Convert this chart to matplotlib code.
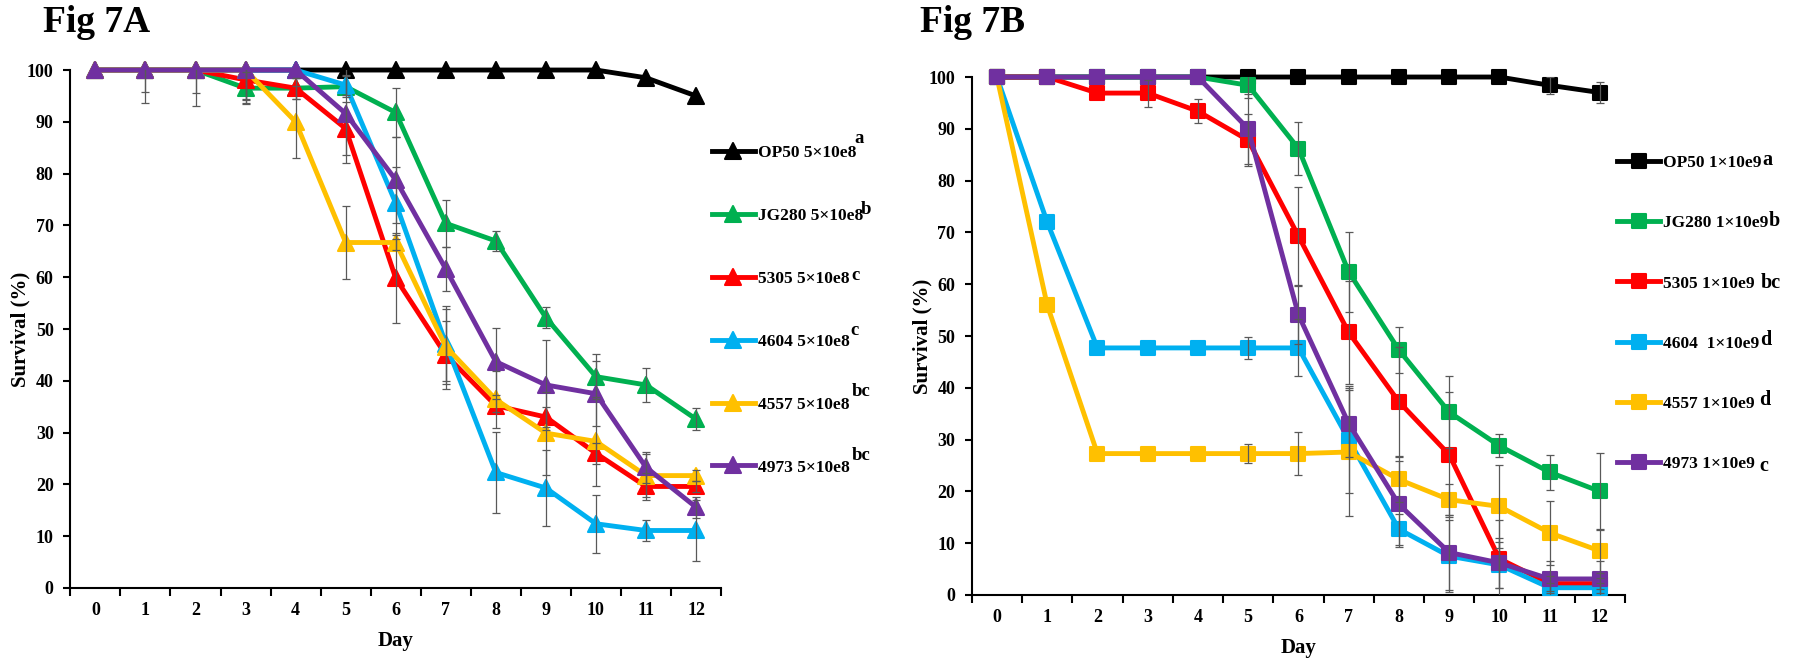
import numpy as np
import matplotlib
matplotlib.use('Agg')
import matplotlib.pyplot as plt
from matplotlib.markers import MarkerStyle

plt.rcParams['font.family'] = ['Liberation Serif', 'DejaVu Serif']
plt.rcParams['font.weight'] = 'bold'

# ---- data ----
days = list(range(13))
colors = ['#000000', '#00B050', '#FF0000', '#00B0F0', '#FFC000', '#7030A0']

# Fig 7A: 5x10e8
labels_a = ['OP50 5×10e8', 'JG280 5×10e8', '5305 5×10e8',
            '4604 5×10e8', '4557 5×10e8', '4973 5×10e8']
letters_a = ['a', 'b', 'c', 'c', 'bc', 'bc']
op50_a = [100, 100, 100, 100, 100, 100, 100, 100, 100, 100, 100, 98.5, 95]
jg280_a = [100, 100, 100, 96.5, 96.5, 96.8, 91.8, 70.4, 67, 52.2, 40.8, 39.2, 32.6]
s5305_a = [100, 100, 100, 98.1, 96.5, 88.7, 59.8, 45, 35.2, 33, 26, 19.6, 19.6]
s4604_a = [100, 100, 100, 100, 100, 97.1, 74.3, 47.2, 22.3, 19.3, 12.4, 11.1, 11.1]
s4557_a = [100, 100, 100, 100, 90, 66.7, 66.7, 46.6, 36.4, 29.9, 28.3, 21.7, 21.7]
s4973_a = [100, 100, 100, 100, 100, 91.6, 78.8, 61.6, 43.7, 39.2, 37.5, 23.3, 15.6]

op50_a_err = [0, 0, 0, 0, 0, 0, 0, 0, 0, 0, 0, 0, 0]
jg280_a_err = [0, 4.3, 4.4, 3.1, 2, 2, 4.7, 4.5, 2, 2, 4.4, 3.2, 2.1]
s5305_a_err = [0, 0, 0, 3.9, 2, 5.1, 8.7, 6.5, 1.2, 2, 2, 2.6, 1]
s4604_a_err = [0, 0, 0, 0, 0, 2, 7, 7.3, 7.9, 7.4, 5.6, 2.1, 5.9]
s4557_a_err = [0, 0, 0, 5.5, 6.9, 7, 1.5, 7.2, 5.5, 8, 8.6, 4.2, 1]
s4973_a_err = [0, 6.4, 6.9, 6.3, 0, 9.6, 8.3, 4.2, 6.4, 8.7, 6.3, 3, 2]

# Fig 7B: 1x10e9
labels_b = ['OP50 1×10e9', 'JG280 1×10e9', '5305 1×10e9',
            '4604  1×10e9', '4557 1×10e9', '4973 1×10e9']
letters_b = ['a', 'b', 'bc', 'd', 'd', 'c']
op50_b = [100, 100, 100, 100, 100, 100, 100, 100, 100, 100, 100, 98.4, 97]
jg280_b = [100, 100, 100, 100, 100, 98.4, 86.2, 62.4, 47.3, 35.3, 28.8, 23.7, 20]
s5305_b = [100, 100, 96.9, 96.9, 93.4, 87.8, 69.3, 50.7, 37.3, 27.1, 7, 2.2, 2.2]
s4604_b = [100, 72, 47.7, 47.7, 47.7, 47.7, 47.7, 30, 12.7, 7.5, 5.8, 1.4, 1.4]
s4557_b = [100, 56, 27.3, 27.3, 27.3, 27.3, 27.3, 27.6, 22.3, 18.4, 17.1, 12, 8.5]
s4973_b = [100, 100, 100, 100, 100, 90, 54.1, 33.1, 17.5, 8.2, 6.2, 3.1, 3.1]

op50_b_err = [0, 0, 0, 0, 0, 0, 0, 0, 0, 0, 0, 1.6, 2.1]
jg280_b_err = [0, 0, 0, 0, 0, 2.5, 5.2, 7.7, 4.5, 6.9, 2.2, 3.4, 7.4]
s5305_b_err = [0, 0, 0, 2.6, 2.3, 5, 9.5, 10, 10.5, 12, 7.5, 1.5, 1]
s4604_b_err = [0, 0, 0, 0, 0, 2.2, 5.5, 10.4, 3, 6.9, 4.4, 1, 1]
s4557_b_err = [0, 0, 0, 0, 0, 1.9, 4.1, 12.4, 4.4, 3, 8, 6.2, 4.3]
s4973_b_err = [0, 0, 0, 0, 0, 6.7, 5.6, 6.5, 8.3, 7.3, 4.8, 3.4, 3.5]

series_a = [op50_a, jg280_a, s5305_a, s4604_a, s4557_a, s4973_a]
errors_a = [op50_a_err, jg280_a_err, s5305_a_err, s4604_a_err, s4557_a_err, s4973_a_err]
series_b = [op50_b, jg280_b, s5305_b, s4604_b, s4557_b, s4973_b]
errors_b = [op50_b_err, jg280_b_err, s5305_b_err, s4604_b_err, s4557_b_err, s4973_b_err]

# letter offsets (points) from the bottom-right corner of each legend text
offsets_a = [(-1.5, 13), (-1.5, 7), (1.5, 5), (0.7, 11), (1.5, 12), (1.5, 11.5)]
offsets_b = [(0.5, 4.7), (0.5, 4.2), (4, 2.7), (0.5, 4.7), (3, 4.7), (3, 0.7)]


def draw_panel(ax, series, errors, labels, letters, offsets, marker, msize,
               leg_anchor, leg_spacing, letter_size):
    x = np.array(days)
    for vals, col, lab in zip(series, colors, labels):
        ax.plot(x, vals, color=col, lw=3.5, label=lab,
                marker=MarkerStyle(marker, joinstyle='round'), ms=msize,
                mec=col, mew=1.5, clip_on=False, zorder=3)
    for vals, err in zip(series, errors):
        vals = np.array(vals)
        err = np.array(err)
        keep = err > 0
        ax.errorbar(x[keep], vals[keep], yerr=err[keep], fmt='none',
                    ecolor='#595959', elinewidth=0.9, capsize=3.2,
                    capthick=0.9, zorder=4)

    ax.set_xlim(-0.5, 12.5)
    ax.set_ylim(0, 100)
    ax.set_yticks(range(0, 101, 10))
    ax.set_xticks(days)
    ax.set_xticks(np.arange(-0.5, 13, 1), minor=True)
    ax.tick_params(axis='x', which='major', length=0, pad=10, labelsize=13)
    ax.tick_params(axis='x', which='minor', length=6, width=1.5, direction='out')
    ax.tick_params(axis='y', length=5, width=1.5, direction='out', pad=7, labelsize=13)
    for s in ['top', 'right']:
        ax.spines[s].set_visible(False)
    for s in ['left', 'bottom']:
        ax.spines[s].set_linewidth(1.5)

    ax.set_xlabel('Day', fontsize=15, fontweight='bold', va='center')
    ax.xaxis.set_label_coords(0.5, -0.102)
    ax.set_ylabel('Survival (%)', fontsize=15, fontweight='bold', va='center')
    ax.yaxis.set_label_coords(-0.076, 0.5)

    leg = ax.legend(loc='upper left', bbox_to_anchor=leg_anchor, frameon=False,
                    borderpad=0, borderaxespad=0, handlelength=2.47,
                    handletextpad=0.17, labelspacing=leg_spacing, fontsize=12.5,
                    numpoints=1)
    for txt, letter, off in zip(leg.get_texts(), letters, offsets):
        ax.annotate(letter, xy=(1, 0), xycoords=txt, xytext=off,
                    textcoords='offset points', fontsize=letter_size,
                    fontweight='bold', ha='left', va='baseline',
                    annotation_clip=False, zorder=6)


fig = plt.figure(figsize=(18.09, 6.6), dpi=100)
ax_a = fig.add_axes([0.0389, 0.1091, 0.3597, 0.7848])
ax_b = fig.add_axes([0.5372, 0.0985, 0.3611, 0.7848])

draw_panel(ax_a, series_a, errors_a, labels_a, letters_a, offsets_a, '^', 11,
           (0.986, 0.855), 2.69, 13.5)
draw_panel(ax_b, series_b, errors_b, labels_b, letters_b, offsets_b, 's', 10,
           (0.988, 0.849), 2.53, 14.5)

fig.text(43 / 1809, 1 - 32 / 660, 'Fig 7A', fontsize=27, fontweight='bold', va='baseline')
fig.text(920 / 1809, 1 - 32 / 660, 'Fig 7B', fontsize=27, fontweight='bold', va='baseline')

fig.canvas.draw()
fig.savefig('out.png', dpi=100)
